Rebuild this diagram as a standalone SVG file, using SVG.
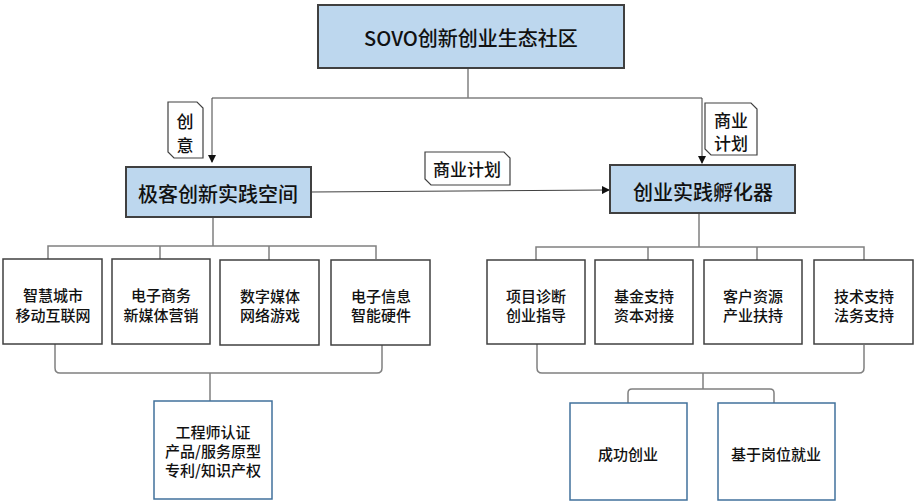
<svg xmlns="http://www.w3.org/2000/svg" width="915" height="501" viewBox="0 0 915 501">
<style>
.main{fill:#BDD7EE;stroke:#404040;stroke-width:2}
.box{fill:#ffffff;stroke:#404040;stroke-width:1.5}
.out{fill:#ffffff;stroke:#41719C;stroke-width:1.5}
.lbl{fill:#ffffff;stroke:#404040;stroke-width:1.2}
.t{font-family:"Noto Sans CJK SC","Noto Sans",sans-serif;font-weight:500;fill:#111;text-anchor:middle;dominant-baseline:central}
.big{font-size:20px}
.mid{font-size:15px}
.lb{font-size:17px}
.conn path{fill:none;stroke:#808080;stroke-width:1.5}
.conn path.arr{stroke:#404040;stroke-width:1}
</style>
<defs>
<marker id="ah" markerWidth="8" markerHeight="8" refX="7" refY="4" orient="auto" markerUnits="userSpaceOnUse">
<path d="M0,0 L8,4 L0,8 Z" fill="#111"/>
</marker>
</defs>
<g class="conn">
<path d="M468,68 V98"/>
<path d="M212,98 H702"/>
<path class="arr" d="M212,98 V162" marker-end="url(#ah)"/>
<path class="arr" d="M702,98 V163" marker-end="url(#ah)"/>
<path class="arr" d="M311,192 L609,190" marker-end="url(#ah)"/>
<path d="M213,217 V246 M48,259 V246 H376 V259 M160,246 V259 M269,246 V260"/>
<path d="M699,213 V247 M536,260 V247 H864 V260 M648,247 V260 M757,247 V260"/>
<path d="M55,344 V368 Q55,373 60,373 H377 Q382,373 382,368 V345 M210,373 V401"/>
<path d="M537,344 V368 Q537,373 542,373 H859 Q864,373 864,368 V345 M703,373 V389 M628,403 V393 Q628,389 632,389 H770 Q774,389 774,393 V403"/>
</g>
<g id="n-top">
<rect class="main" x="318" y="5" width="306" height="63"/>
<text class="t big" x="471" y="37">SOVO创新创业生态社区</text>
</g>
<g id="l-idea">
<path class="lbl" d="M168,102 H197 L203,108 V158 H174 L168,152 Z"/>
<text class="t lb" x="185" y="120">创</text>
<text class="t lb" x="185" y="144">意</text>
</g>
<g id="l-biz-right">
<path class="lbl" d="M705,103 H751 L757,109 V155 H711 L705,149 Z"/>
<text class="t lb" x="731" y="119">商业</text>
<text class="t lb" x="731" y="142">计划</text>
</g>
<g id="l-biz-mid">
<path class="lbl" d="M425,152 H504 L510,158 V185 H431 L425,179 Z"/>
<text class="t lb" x="467" y="168">商业计划</text>
</g>
<g id="n-geek">
<rect class="main" x="126" y="167" width="185" height="50"/>
<text class="t big" x="218" y="193">极客创新实践空间</text>
</g>
<g id="n-incubator">
<rect class="main" x="610" y="165" width="185" height="48"/>
<text class="t big" x="703" y="191">创业实践孵化器</text>
</g>
<g id="n-l1">
<rect class="box" x="3" y="259" width="99" height="85"/>
<text class="t mid" x="53" y="294">智慧城市</text>
<text class="t mid" x="53" y="314">移动互联网</text>
</g>
<g id="n-l2">
<rect class="box" x="112" y="259" width="98" height="85"/>
<text class="t mid" x="161" y="294">电子商务</text>
<text class="t mid" x="161" y="314">新媒体营销</text>
</g>
<g id="n-l3">
<rect class="box" x="220" y="260" width="99" height="85"/>
<text class="t mid" x="270" y="295">数字媒体</text>
<text class="t mid" x="270" y="314">网络游戏</text>
</g>
<g id="n-l4">
<rect class="box" x="331" y="260" width="99" height="85"/>
<text class="t mid" x="381" y="295">电子信息</text>
<text class="t mid" x="381" y="314">智能硬件</text>
</g>
<g id="n-r1">
<rect class="box" x="487" y="260" width="98" height="84"/>
<text class="t mid" x="536" y="295">项目诊断</text>
<text class="t mid" x="536" y="314">创业指导</text>
</g>
<g id="n-r2">
<rect class="box" x="595" y="260" width="98" height="84"/>
<text class="t mid" x="644" y="295">基金支持</text>
<text class="t mid" x="644" y="314">资本对接</text>
</g>
<g id="n-r3">
<rect class="box" x="704" y="260" width="98" height="84"/>
<text class="t mid" x="753" y="295">客户资源</text>
<text class="t mid" x="753" y="314">产业扶持</text>
</g>
<g id="n-r4">
<rect class="box" x="814" y="260" width="99" height="84"/>
<text class="t mid" x="864" y="295">技术支持</text>
<text class="t mid" x="864" y="314">法务支持</text>
</g>
<g id="n-cert">
<rect class="out" x="154" y="401" width="118" height="98"/>
<text class="t mid" x="213" y="431">工程师认证</text>
<text class="t mid" x="213" y="450">产品/服务原型</text>
<text class="t mid" x="213" y="469">专利/知识产权</text>
</g>
<g id="n-success">
<rect class="out" x="570" y="403" width="117" height="97"/>
<text class="t mid" x="628" y="453">成功创业</text>
</g>
<g id="n-job">
<rect class="out" x="718" y="403" width="117" height="97"/>
<text class="t mid" x="776" y="453">基于岗位就业</text>
</g>
</svg>
